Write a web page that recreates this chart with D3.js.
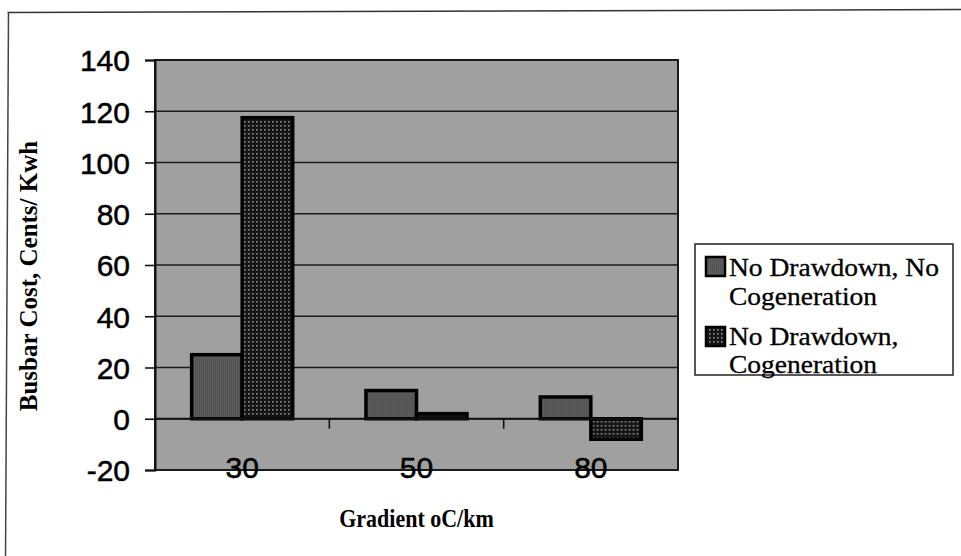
<!DOCTYPE html>
<html>
<head>
<meta charset="utf-8">
<script src="https://cdn.jsdelivr.net/npm/d3@7/dist/d3.min.js"></script>
<style>
html,body{margin:0;padding:0;background:#fff;}
svg{display:block;}
</style>
</head>
<body>
<script>
const categories = ["30", "50", "80"];
const seriesNames = ["No Drawdown, No Cogeneration", "No Drawdown, Cogeneration"];
const noDrawdownNoCogen = [25, 11, 8.5];
const noDrawdownCogen = [117.5, 2, -8];
const yTicks = [-20, 0, 20, 40, 60, 80, 100, 120, 140];

const W = 961, H = 556;
const plot = {left: 155, top: 60, right: 678, bottom: 470};

const svg = d3.select("body").append("svg").attr("width", W).attr("height", H);
const defs = svg.append("defs");

// background texture
const bg = defs.append("pattern").attr("id","bgpat").attr("width",2).attr("height",2).attr("patternUnits","userSpaceOnUse");
bg.append("rect").attr("width",2).attr("height",2).attr("fill","#a8a8a8");
bg.append("rect").attr("width",1).attr("height",1).attr("fill","#989898");
bg.append("rect").attr("x",1).attr("y",1).attr("width",1).attr("height",1).attr("fill","#989898");

// series 1 texture
const p1 = defs.append("pattern").attr("id","pat1").attr("width",2).attr("height",2).attr("patternUnits","userSpaceOnUse");
p1.append("rect").attr("width",2).attr("height",2).attr("fill","#5e5e5e");
p1.append("rect").attr("width",1).attr("height",2).attr("fill","#525252");

// series 2 dotted texture
const p2 = defs.append("pattern").attr("id","pat2").attr("width",4).attr("height",4).attr("patternUnits","userSpaceOnUse");
p2.append("rect").attr("width",4).attr("height",4).attr("fill","#161616");
p2.append("rect").attr("x",1).attr("y",1).attr("width",1.6).attr("height",1.6).attr("fill","#8a8a8a");

// outer frame
svg.append("line").attr("x1",7.5).attr("y1",12.5).attr("x2",W+5).attr("y2",9.5).attr("stroke","#333").attr("stroke-width",1.5);
svg.append("line").attr("x1",8.5).attr("y1",12).attr("x2",5.5).attr("y2",H+5).attr("stroke","#444").attr("stroke-width",1.5);

const x0 = d3.scaleBand().domain(categories).range([plot.left, plot.right]).paddingInner(0).paddingOuter(0);
const y = d3.scaleLinear().domain([-20, 140]).range([plot.bottom, plot.top]);

// plot background
svg.append("rect").attr("x",plot.left).attr("y",plot.top).attr("width",plot.right-plot.left).attr("height",plot.bottom-plot.top).attr("fill","url(#bgpat)");

// gridlines
svg.append("g").selectAll("line").data(yTicks).join("line")
  .attr("x1",plot.left).attr("x2",plot.right)
  .attr("y1",d=>y(d)).attr("y2",d=>y(d))
  .attr("stroke","#1a1a1a").attr("stroke-width",1.6);

// bars
const groups = svg.append("g").selectAll("g").data(categories).join("g")
  .attr("transform", d => `translate(${x0(d)},0)`);
const bw = x0.bandwidth()/3.45;
groups.each(function(c, i){
  const g = d3.select(this);
  const vals = [noDrawdownNoCogen[i], noDrawdownCogen[i]];
  vals.forEach((v, s) => {
    const xs = x0.bandwidth()/2 - bw + s*bw;
    g.append("rect")
      .attr("x", xs).attr("width", bw)
      .attr("y", y(Math.max(0,v))).attr("height", Math.abs(y(v)-y(0)))
      .attr("fill", s===0 ? "url(#pat1)" : "url(#pat2)")
      .attr("stroke","#000").attr("stroke-width",3.5);
  });
});

// plot border
svg.append("rect").attr("x",plot.left).attr("y",plot.top).attr("width",plot.right-plot.left).attr("height",plot.bottom-plot.top)
  .attr("fill","none").attr("stroke","#1a1a1a").attr("stroke-width",2);

const sansFont = "'Liberation Sans', Arial, sans-serif";
const serifFont = "'Liberation Serif', 'Times New Roman', serif";

// y axis
const yAxis = d3.axisLeft(y).tickValues(yTicks).tickSize(10).tickPadding(15).tickFormat(d => String(d));
const ya = svg.append("g").attr("transform",`translate(${plot.left},0)`).call(yAxis);
ya.select(".domain").attr("stroke","#111").attr("stroke-width",2);
ya.selectAll(".tick line").attr("stroke","#111").attr("stroke-width",1.6);
ya.selectAll(".tick text").attr("font-family",sansFont).attr("font-size",30).attr("fill","#000")
  .attr("stroke","#000").attr("stroke-width",0.5).attr("dy","0.36em");

// x axis at zero
const boundaries = [categories[1], categories[2]].map(c => x0(c));
svg.append("g").selectAll("line").data(boundaries).join("line")
  .attr("x1",d=>d).attr("x2",d=>d).attr("y1",y(0)).attr("y2",y(0)+10)
  .attr("stroke","#111").attr("stroke-width",1.6);
svg.append("line").attr("x1",plot.left).attr("x2",plot.right).attr("y1",y(0)).attr("y2",y(0)).attr("stroke","#111").attr("stroke-width",2);

svg.append("g").selectAll("text").data(categories).join("text")
  .attr("x", d => x0(d) + x0.bandwidth()/2)
  .attr("y", 478)
  .attr("text-anchor","middle")
  .attr("font-family",sansFont).attr("font-size",30).attr("fill","#000")
  .attr("stroke","#000").attr("stroke-width",0.5)
  .text(d=>d);

// axis titles
svg.append("text").attr("transform","translate(37,276) rotate(-90)")
  .attr("text-anchor","middle")
  .attr("font-family",serifFont).attr("font-weight","bold").attr("font-size",25).attr("fill","#000")
  .text("Busbar Cost, Cents/ Kwh");

svg.append("text").attr("transform",`translate(${(plot.left+plot.right)/2},527) scale(1,1.15)`)
  .attr("text-anchor","middle")
  .attr("font-family",serifFont).attr("font-weight","bold").attr("font-size",22).attr("fill","#000")
  .text("Gradient oC/km");

// legend
const lg = svg.append("g");
lg.append("rect").attr("x",695).attr("y",244).attr("width",258).attr("height",131).attr("fill","#fff").attr("stroke","#222").attr("stroke-width",1.5);
const legendLines = [["No Drawdown, No", "Cogeneration"], ["No Drawdown,", "Cogeneration"]];
const swY = [257, 327];
const textY = [[276, 305], [345, 373]];
seriesNames.forEach((n, i) => {
  lg.append("rect").attr("x",706).attr("y",swY[i]).attr("width",19).attr("height",19)
    .attr("fill", i===0 ? "url(#pat1)" : "url(#pat2)").attr("stroke","#000").attr("stroke-width",2.5);
  legendLines[i].forEach((t, j) => {
    lg.append("text").attr("transform",`translate(729,${textY[i][j]}) scale(1.1,1)`)
      .attr("font-family",serifFont).attr("font-size",25).attr("fill","#000")
      .attr("stroke","#000").attr("stroke-width",0.3)
      .text(t);
  });
});
</script>
</body>
</html>
